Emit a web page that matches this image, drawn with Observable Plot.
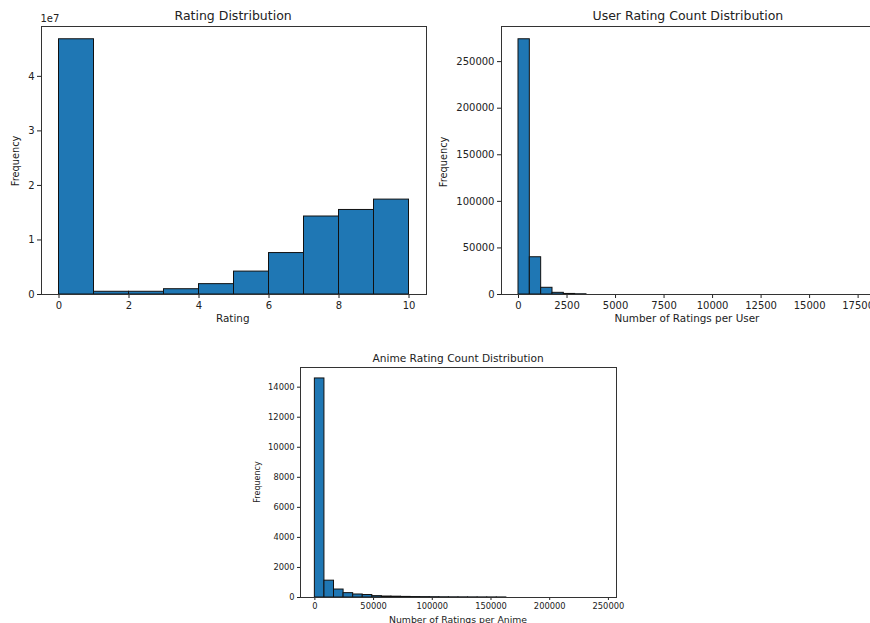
<!DOCTYPE html>
<html>
<head>
<meta charset="utf-8">
<script src="https://cdn.jsdelivr.net/npm/d3@7"></script>
<script src="https://cdn.jsdelivr.net/npm/@observablehq/plot@0.6"></script>
<style>
  html, body { margin: 0; padding: 0; background: #fff; }
  #root { position: relative; width: 870px; height: 623px; overflow: hidden; background: #fff;
          font-family: "DejaVu Sans", sans-serif; color: #222; }
  .panel { position: absolute; }
  .panel svg { max-width: none !important; display: block; }
  .txt { position: absolute; white-space: nowrap; line-height: 1; color: #222; }
</style>
</head>
<body>
<div id="root"></div>
<script>
// ---------- DATA ----------
// Panel 1: Rating Distribution (10 bins over ratings 0..10)
const ratingEdges = [0, 1, 2, 3, 4, 5, 6, 7, 8, 9, 10];
const ratingCounts = [46800000, 500000, 500000, 970000, 1900000, 4200000, 7600000, 14300000, 15500000, 17400000];
const ratingXTicks = [0, 2, 4, 6, 8, 10];
const ratingYTicks = [0, 1e7, 2e7, 3e7, 4e7];

// Panel 2: User Rating Count Distribution (30 bins, 0..~17520)
const userMin = 0;
const userMax = 17520;
const userCounts = [274000, 40000, 7200, 1800, 600, 250, 0, 0, 0, 0, 0, 0, 0, 0, 0, 0, 0, 0, 0, 0, 0, 0, 0, 0, 0, 0, 0, 0, 0, 0];
const userXTicks = [0, 2500, 5000, 7500, 10000, 12500, 15000, 17500];
const userYTicks = [0, 50000, 100000, 150000, 200000, 250000];

// Panel 3: Anime Rating Count Distribution (30 bins, 0..~244660)
const animeMin = 0;
const animeMax = 244660;
const animeCounts = [14580, 1120, 530, 290, 200, 165, 90, 65, 55, 40, 30, 25, 20, 15, 12, 10, 8, 6, 5, 4, 0, 0, 0, 0, 0, 0, 0, 0, 0, 0];
const animeXTicks = [0, 50000, 100000, 150000, 200000, 250000];
const animeYTicks = [0, 2000, 4000, 6000, 8000, 10000, 12000, 14000];

// ---------- HELPERS ----------
function binsFromEdges(edges, counts) {
  return counts.map((c, i) => ({x1: edges[i], x2: edges[i + 1], y: c})).filter(d => d.y > 0);
}
function edgesFromRange(min, max, n) {
  return d3.range(n + 1).map(i => min + (max - min) * i / n);
}
const root = document.getElementById("root");

function addText(str, x, y, size, opts = {}) {
  const el = document.createElement("div");
  el.className = "txt";
  el.textContent = str;
  el.style.fontSize = size + "px";
  root.appendChild(el);
  const w = el.offsetWidth, h = el.offsetHeight;
  if (opts.rotate) {
    el.style.left = (x - w / 2) + "px";
    el.style.top = (y - h / 2) + "px";
    el.style.transform = "rotate(-90deg)";
  } else {
    const ax = opts.anchor || "middle";
    el.style.left = (ax === "middle" ? x - w / 2 : ax === "end" ? x - w : x) + "px";
    el.style.top = (y - h / 2) + "px";
  }
  return el;
}

function hist({left, top, width, height, mL, mR, mT, mB, bins, xDomain, yMax, xTicks, yTicks, yFormat, font, tickSize, tickPad}) {
  const svg = Plot.plot({
    width, height,
    marginLeft: mL, marginRight: mR, marginTop: mT, marginBottom: mB,
    style: {fontFamily: "DejaVu Sans, sans-serif", fontSize: font + "px", color: "#222", background: "transparent", overflow: "visible", maxWidth: "none"},
    x: {domain: xDomain, ticks: xTicks, tickFormat: d => String(d), label: null, tickSize, tickPadding: tickPad},
    y: {domain: [0, yMax], ticks: yTicks, tickFormat: yFormat || (d => String(d)), label: null, tickSize, tickPadding: tickPad},
    marks: [
      Plot.rectY(bins, {x1: "x1", x2: "x2", y: "y", fill: "#1f77b4", stroke: "#111", strokeWidth: 1, insetLeft: 0, insetRight: 0}),
      Plot.frame({stroke: "#333", strokeWidth: 1})
    ]
  });
  const wrap = document.createElement("div");
  wrap.className = "panel";
  wrap.style.left = left + "px";
  wrap.style.top = top + "px";
  wrap.style.width = width + "px";
  wrap.style.height = height + "px";
  wrap.appendChild(svg);
  root.appendChild(wrap);
}

// ---------- PANEL 1 ----------
const rBins = binsFromEdges(ratingEdges, ratingCounts);
hist({left: 0, top: 0, width: 440, height: 330, mL: 41, mR: 14, mT: 26, mB: 36,
  bins: rBins, xDomain: [-0.5, 10.5], yMax: d3.max(ratingCounts) * 1.05,
  xTicks: ratingXTicks, yTicks: ratingYTicks, yFormat: d => String(d / 1e7),
  font: 10, tickSize: 4, tickPad: 3});
addText("Rating Distribution", 233, 16, 12.5);
addText("1e7", 50, 19, 10);
addText("Frequency", 16, 161, 9.8, {rotate: true});
addText("Rating", 233, 318, 10.4);

// ---------- PANEL 2 ----------
const uEdges = edgesFromRange(userMin, userMax, userCounts.length);
const uBins = binsFromEdges(uEdges, userCounts);
const uPad = (userMax - userMin) * 0.05;
hist({left: 430, top: 0, width: 460, height: 330, mL: 71, mR: 15, mT: 26, mB: 36,
  bins: uBins, xDomain: [userMin - uPad, userMax + uPad], yMax: d3.max(userCounts) * 1.05,
  xTicks: userXTicks, yTicks: userYTicks,
  font: 10, tickSize: 4, tickPad: 3});
addText("User Rating Count Distribution", 688, 16, 12.5);
addText("Frequency", 444, 162, 9.8, {rotate: true});
addText("Number of Ratings per User", 687, 318, 10.4);

// ---------- PANEL 3 ----------
const aEdges = edgesFromRange(animeMin, animeMax, animeCounts.length);
const aBins = binsFromEdges(aEdges, animeCounts);
const aPad = (animeMax - animeMin) * 0.05;
hist({left: 240, top: 345, width: 400, height: 278, mL: 60, mR: 24, mT: 22, mB: 26,
  bins: aBins, xDomain: [animeMin - aPad, animeMax + aPad], yMax: d3.max(animeCounts) * 1.05,
  xTicks: animeXTicks, yTicks: animeYTicks,
  font: 8.3, tickSize: 3, tickPad: 3});
addText("Anime Rating Count Distribution", 458, 358, 10.6);
addText("Frequency", 257, 482, 8, {rotate: true});
addText("Number of Ratings per Anime", 458, 619, 9.3);
</script>
</body>
</html>
